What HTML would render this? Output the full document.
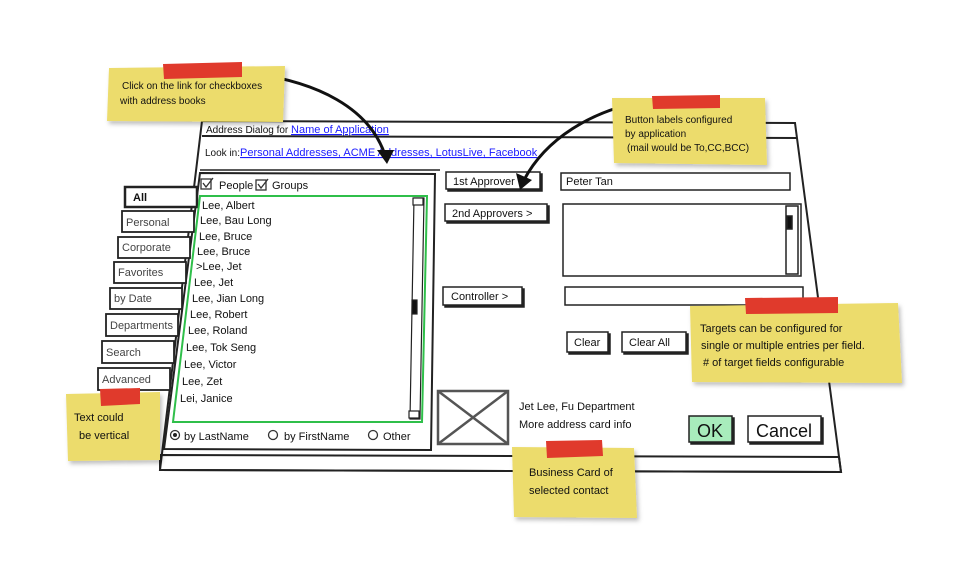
<!DOCTYPE html>
<html><head><meta charset="utf-8"><style>
html,body{margin:0;padding:0;background:#fff;}
svg{display:block;font-family:"Liberation Sans",sans-serif;}
.t{font-size:11px;fill:#111;}
.s{font-size:10px;fill:#111;}
.l{font-size:11px;fill:#1a1aff;text-decoration:underline;}
.g{font-size:11px;fill:#444;}
</style></head><body>
<svg width="973" height="587" viewBox="0 0 973 587" xmlns="http://www.w3.org/2000/svg">
<defs>
<filter id="sh" x="-10%" y="-10%" width="130%" height="140%"><feDropShadow dx="2" dy="3" stdDeviation="2" flood-color="#000" flood-opacity="0.25"/></filter>
</defs>
<g fill="none" stroke="#222" stroke-width="2">
<polygon points="202,121 795,123 841,472 160,470" fill="#fff"/>
<line x1="202" y1="136" x2="797" y2="138"/>
<line x1="200" y1="170" x2="440" y2="170" stroke-width="1.5"/>
<polygon points="160,455 839,457 841,472 160,470"/>
<polygon points="200,173 435,174 431,450 164,449"/>
<g stroke-width="1.8" fill="#fff">
<rect x="125" y="187" width="72" height="20" stroke-width="2.5"/>
<rect x="122" y="211" width="72" height="21"/>
<rect x="118" y="237" width="72" height="21"/>
<rect x="114" y="262" width="72" height="21"/>
<rect x="110" y="288" width="72" height="21"/>
<rect x="106" y="314" width="72" height="22"/>
<rect x="102" y="341" width="72" height="22"/>
<rect x="98" y="368" width="72" height="22"/>
</g>
</g>
<polygon points="200,196 427,196 422,422 173,422" fill="#fff" stroke="#2fbf4a" stroke-width="2"/>
<g stroke="#222" stroke-width="1.2" fill="#fff">
<polygon points="414,198 424,198 420,419 410,419"/>
<rect x="413" y="198" width="10" height="7"/>
<rect x="409" y="411" width="10" height="7"/>
<rect x="412" y="300" width="5" height="14" fill="#111"/>
</g>
<g class="t">
<text x="219" y="189">People</text><text x="272" y="189">Groups</text>
<text x="202" y="209">Lee, Albert</text>
<text x="200" y="224">Lee, Bau Long</text>
<text x="199" y="240">Lee, Bruce</text>
<text x="197" y="255">Lee, Bruce</text>
<text x="196" y="270">&gt;Lee, Jet</text>
<text x="194" y="286">Lee, Jet</text>
<text x="192" y="302">Lee, Jian Long</text>
<text x="190" y="318">Lee, Robert</text>
<text x="188" y="334">Lee, Roland</text>
<text x="186" y="351">Lee, Tok Seng</text>
<text x="184" y="368">Lee, Victor</text>
<text x="182" y="385">Lee, Zet</text>
<text x="180" y="402">Lei, Janice</text>
<text x="184" y="440">by LastName</text>
<text x="284" y="440">by FirstName</text>
<text x="383" y="440">Other</text>
</g>
<g fill="none" stroke="#333" stroke-width="1.3">
<rect x="201" y="179" width="10" height="10"/><rect x="256" y="180" width="10" height="10"/>
<path d="M203,183 l3,4 l7,-9 M258,184 l3,4 l7,-9"/>
<circle cx="175" cy="435" r="4.5"/><circle cx="273" cy="435" r="4.5"/><circle cx="373" cy="435" r="4.5"/>
</g>
<circle cx="175" cy="435" r="2" fill="#222"/>
<g class="g">
<text x="133" y="201" fill="#111" font-weight="bold">All</text>
<text x="126" y="226">Personal</text>
<text x="122" y="251">Corporate</text>
<text x="118" y="276">Favorites</text>
<text x="114" y="302">by Date</text>
<text x="110" y="329">Departments</text>
<text x="106" y="356">Search</text>
<text x="102" y="383">Advanced</text>
</g>
<text class="s" x="206" y="133">Address Dialog for <tspan class="l" font-size="10px">Name of Application</tspan></text>
<text class="s" x="205" y="156">Look in:<tspan class="l" font-size="10px">Personal Addresses, ACME Addresses, LotusLive, Facebook</tspan></text>
<g fill="#fff" stroke="#222" stroke-width="1.5">
<rect x="448" y="174" width="94" height="17" fill="#222"/><rect x="446" y="172" width="94" height="17"/>
<rect x="447" y="206" width="102" height="17" fill="#222"/><rect x="445" y="204" width="102" height="17"/>
<rect x="445" y="289" width="79" height="18" fill="#222"/><rect x="443" y="287" width="79" height="18"/>
<rect x="561" y="173" width="229" height="17"/>
<rect x="563" y="204" width="238" height="72"/>
<rect x="786" y="206" width="12" height="68"/>
<rect x="787" y="216" width="5" height="13" fill="#111"/>
<rect x="565" y="287" width="238" height="18"/>
<rect x="569" y="334" width="41" height="20" fill="#222"/><rect x="567" y="332" width="41" height="20"/>
<rect x="624" y="334" width="64" height="20" fill="#222"/><rect x="622" y="332" width="64" height="20"/>
<rect x="691" y="418" width="43" height="26" fill="#222"/><rect x="689" y="416" width="43" height="26" fill="#a8ecbc"/>
<rect x="750" y="418" width="73" height="26" fill="#222"/><rect x="748" y="416" width="73" height="26"/>
</g>
<g class="t">
<text x="453" y="185">1st Approver</text>
<text x="452" y="217">2nd Approvers &gt;</text>
<text x="451" y="300">Controller &gt;</text>
<text x="566" y="185">Peter Tan</text>
<text x="574" y="346">Clear</text>
<text x="629" y="346">Clear All</text>
<text x="519" y="410">Jet Lee, Fu Department</text>
<text x="519" y="428">More address card info</text>
<text x="697" y="437" font-size="18px">OK</text>
<text x="756" y="437" font-size="18px">Cancel</text>
</g>
<g stroke="#555" stroke-width="2.5" fill="#fff">
<rect x="438" y="391" width="70" height="53"/>
<path d="M438,391 L508,444 M508,391 L438,444" fill="none"/>
</g>
<g fill="none" stroke="#111" stroke-width="3">
<path d="M240,72 C320,80 370,110 385,155"/>
<path d="M650,100 C590,110 545,140 524,180"/>
</g>
<polygon points="377,150 394,150 387,164" fill="#111"/>
<polygon points="516,173 532,180 520,190" fill="#111"/>
<g filter="url(#sh)">
<polygon points="109,68 285,66 283,122 107,121" fill="#ecdc6c"/>
<polygon points="612,98 765,98 767,165 614,163" fill="#ecdc6c"/>
<polygon points="690,306 898,303 902,383 692,382" fill="#ecdc6c"/>
<polygon points="66,394 160,392 160,460 68,461" fill="#ecdc6c"/>
<polygon points="512,447 634,448 637,518 514,517" fill="#ecdc6c"/>
</g>
<g fill="#e03a2c">
<polygon points="163,64 242,62 242,77 164,79"/>
<polygon points="652,96 720,95 720,108 653,109"/>
<polygon points="745,298 838,297 838,313 746,314"/>
<polygon points="100,389 140,388 140,404 101,406"/>
<polygon points="546,441 602,440 603,456 547,458"/>
</g>
<g class="s" font-size="10px">
<text x="122" y="89">Click on the link for checkboxes</text>
<text x="120" y="104">with address books</text>
<text x="625" y="123">Button labels configured</text>
<text x="625" y="137">by application</text>
<text x="627" y="151">(mail would be To,CC,BCC)</text>
<text x="700" y="332" font-size="11px">Targets can be configured for</text>
<text x="701" y="349" font-size="11px">single or multiple entries per field.</text>
<text x="703" y="366" font-size="11px"># of target fields configurable</text>
<text x="74" y="421" font-size="11px">Text could</text>
<text x="79" y="439" font-size="11px">be vertical</text>
<text x="529" y="476" font-size="11px">Business Card of</text>
<text x="529" y="494" font-size="11px">selected contact</text>
</g>
</svg>
</body></html>
